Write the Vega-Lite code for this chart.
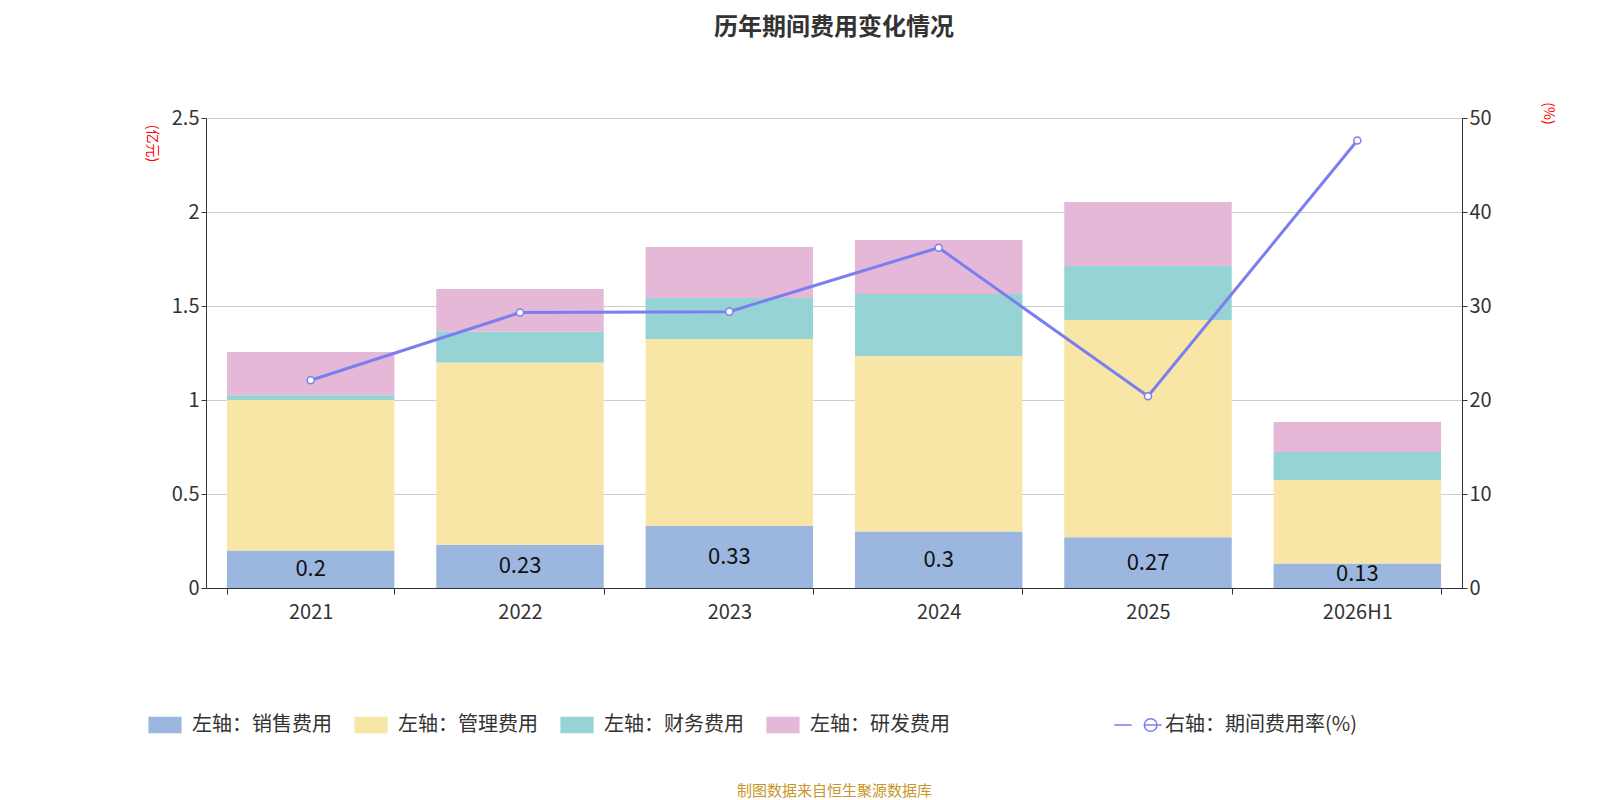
{
"$schema":"https://vega.github.io/schema/vega-lite/v6.json",
"width":1256,"height":470,"autosize":{"type":"none"},
"padding":{"left":206,"top":118,"right":138,"bottom":212},
"background":"white",
"title":{"text":"历年期间费用变化情况","fontSize":24,"font":"Noto Sans CJK SC","fontWeight":"bold","color":"#333","offset":62,"anchor":"middle"},
"config":{"font":"Noto Sans CJK SC","view":{"stroke":null}},
"datasets":{
"bars":[
{"year":"2021","type":"左轴：销售费用","o":1,"v":0.2},{"year":"2021","type":"左轴：管理费用","o":2,"v":0.80},{"year":"2021","type":"左轴：财务费用","o":3,"v":0.025},{"year":"2021","type":"左轴：研发费用","o":4,"v":0.23},
{"year":"2022","type":"左轴：销售费用","o":1,"v":0.23},{"year":"2022","type":"左轴：管理费用","o":2,"v":0.97},{"year":"2022","type":"左轴：财务费用","o":3,"v":0.165},{"year":"2022","type":"左轴：研发费用","o":4,"v":0.225},
{"year":"2023","type":"左轴：销售费用","o":1,"v":0.33},{"year":"2023","type":"左轴：管理费用","o":2,"v":0.994},{"year":"2023","type":"左轴：财务费用","o":3,"v":0.219},{"year":"2023","type":"左轴：研发费用","o":4,"v":0.271},
{"year":"2024","type":"左轴：销售费用","o":1,"v":0.3},{"year":"2024","type":"左轴：管理费用","o":2,"v":0.934},{"year":"2024","type":"左轴：财务费用","o":3,"v":0.33},{"year":"2024","type":"左轴：研发费用","o":4,"v":0.287},
{"year":"2025","type":"左轴：销售费用","o":1,"v":0.27},{"year":"2025","type":"左轴：管理费用","o":2,"v":1.156},{"year":"2025","type":"左轴：财务费用","o":3,"v":0.287},{"year":"2025","type":"左轴：研发费用","o":4,"v":0.34},
{"year":"2026H1","type":"左轴：销售费用","o":1,"v":0.13},{"year":"2026H1","type":"左轴：管理费用","o":2,"v":0.444},{"year":"2026H1","type":"左轴：财务费用","o":3,"v":0.149},{"year":"2026H1","type":"左轴：研发费用","o":4,"v":0.16}
],
"sales":[
{"year":"2021","v":0.2,"mid":0.1},{"year":"2022","v":0.23,"mid":0.115},{"year":"2023","v":0.33,"mid":0.165},{"year":"2024","v":0.3,"mid":0.15},{"year":"2025","v":0.27,"mid":0.135},{"year":"2026H1","v":0.13,"mid":0.075}
],
"rate":[
{"year":"2021","r":22.1,"s":"右轴：期间费用率(%)"},{"year":"2022","r":29.3,"s":"右轴：期间费用率(%)"},{"year":"2023","r":29.4,"s":"右轴：期间费用率(%)"},{"year":"2024","r":36.2,"s":"右轴：期间费用率(%)"},{"year":"2025","r":20.4,"s":"右轴：期间费用率(%)"},{"year":"2026H1","r":47.6,"s":"右轴：期间费用率(%)"}
]},
"encoding":{"x":{"field":"year","type":"nominal","sort":null,"scale":{"paddingInner":0.2,"paddingOuter":0.1},
 "axis":{"labelAngle":0,"labelFontSize":20,"labelColor":"#333","domainColor":"#333","tickColor":"#333","tickBand":"extent","tickSize":6,"labelPadding":8,
 "title":"制图数据来自恒生聚源数据库","titleColor":"#c8962a","titleFontWeight":"normal","titleFontSize":15,"titleY":195}}},
"layer":[
{"layer":[
{"data":{"name":"bars"},"mark":{"type":"bar"},
 "encoding":{"y":{"field":"v","type":"quantitative","stack":"zero","scale":{"domain":[0,2.5],"nice":false},
  "axis":{"values":[0,0.5,1,1.5,2,2.5],"format":"~g","labelFontSize":20,"labelColor":"#333","domain":true,"domainColor":"#333","ticks":true,"tickColor":"#333","gridColor":"#ccc",
  "title":"(亿元)","titleColor":"red","titleFontSize":14,"titleFontWeight":"normal","titleAngle":90,"titleX":-62,"titleY":25}},
  "order":{"field":"o"},
  "color":{"field":"type","type":"nominal","sort":["左轴：销售费用","左轴：管理费用","左轴：财务费用","左轴：研发费用"],
   "scale":{"domain":["左轴：销售费用","左轴：管理费用","左轴：财务费用","左轴：研发费用"],"range":["#9bb7e0","#f7e6a6","#96d3d4","#e6b8d8"]},
   "legend":{"title":null,"orient":"none","direction":"horizontal","legendX":-58,"legendY":590,"labelFontSize":20,"labelColor":"#333","symbolType":"M-1,-0.5 h2 v1 h-2 z","symbolSize":1100,"symbolStrokeWidth":0,"columnPadding":22,"labelOffset":10,"labelLimit":300}}}},
{"data":{"name":"sales"},"mark":{"type":"text","fontSize":22,"color":"#111"},
 "encoding":{"y":{"field":"mid","type":"quantitative"},"text":{"field":"v","type":"quantitative"}}}
]},
{"data":{"name":"rate"},"mark":{"type":"line","strokeWidth":3,"point":{"filled":true,"fill":"white","stroke":"#7b7ef0","strokeWidth":1.5,"size":50}},
 "encoding":{"y":{"field":"r","type":"quantitative","scale":{"domain":[0,50],"nice":false},
  "axis":{"orient":"right","values":[0,10,20,30,40,50],"grid":false,"labelFontSize":20,"labelColor":"#333","domainColor":"#333","tickColor":"#333",
  "title":"(%)","titleColor":"red","titleFontSize":14,"titleFontWeight":"normal","titleAngle":90,"titleX":78,"titleY":-5}},
  "stroke":{"field":"s","type":"nominal","scale":{"range":["#7b7ef0"]},
   "legend":{"title":null,"orient":"none","legendX":915,"legendY":590,"labelFontSize":20,"labelColor":"#333","symbolType":"M-1.5,0 L-0.4,0 M0.4,0 L1.5,0 M0.4,0 A0.4,0.4 0 1 1 0.4,0.001","symbolSize":1000,"symbolStrokeWidth":1.5,"labelOffset":10,"labelLimit":300}}}}
],
"resolve":{"scale":{"y":"independent"}}
}
